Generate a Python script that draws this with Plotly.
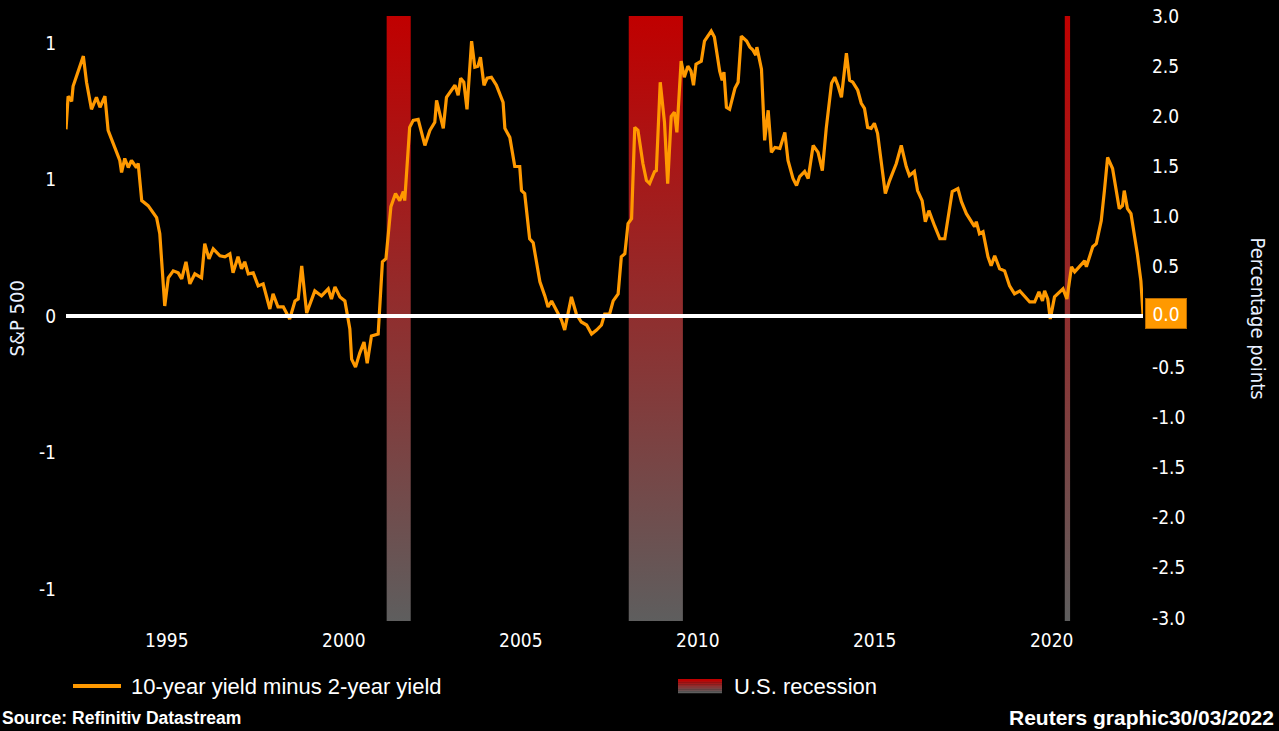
import plotly.graph_objects as go

# 10-year minus 2-year Treasury yield spread (percentage points), by decimal year
years = [
    1992.15, 1992.21, 1992.31, 1992.35, 1992.64, 1992.73, 1992.87, 1993.01, 1993.11, 1993.25,
    1993.34, 1993.53, 1993.67, 1993.72, 1993.81, 1993.91, 1994.00, 1994.14, 1994.19, 1994.29,
    1994.47, 1994.71, 1994.80, 1994.94, 1995.04, 1995.18, 1995.32, 1995.42, 1995.54, 1995.65,
    1995.79, 1995.98, 1996.07, 1996.19, 1996.31, 1996.50, 1996.64, 1996.78, 1996.87, 1997.01,
    1997.11, 1997.20, 1997.30, 1997.44, 1997.58, 1997.72, 1997.91, 1998.00, 1998.14, 1998.29,
    1998.47, 1998.62, 1998.71, 1998.81, 1998.95, 1999.18, 1999.37, 1999.56, 1999.65, 1999.75,
    1999.89, 2000.03, 2000.17, 2000.22, 2000.33, 2000.45, 2000.57, 2000.66, 2000.78, 2000.97,
    2001.09, 2001.19, 2001.33, 2001.46, 2001.58, 2001.68, 2001.72, 2001.86, 2001.96, 2002.10,
    2002.29, 2002.43, 2002.57, 2002.62, 2002.71, 2002.81, 2002.90, 2003.04, 2003.14, 2003.23,
    2003.30, 2003.39, 2003.48, 2003.61, 2003.70, 2003.79, 2003.86, 2003.96, 2004.05, 2004.17,
    2004.31, 2004.50, 2004.55, 2004.69, 2004.83, 2004.97, 2005.02, 2005.11, 2005.25, 2005.35,
    2005.54, 2005.68, 2005.77, 2005.87, 2006.05, 2006.15, 2006.24, 2006.34, 2006.43, 2006.57,
    2006.71, 2006.86, 2007.00, 2007.14, 2007.28, 2007.37, 2007.51, 2007.61, 2007.75, 2007.84,
    2007.94, 2008.03, 2008.13, 2008.22, 2008.31, 2008.45, 2008.55, 2008.64, 2008.78, 2008.83,
    2008.94, 2009.06, 2009.15, 2009.25, 2009.34, 2009.41, 2009.53, 2009.62, 2009.72, 2009.81,
    2009.88, 2009.95, 2010.10, 2010.19, 2010.38, 2010.47, 2010.62, 2010.69, 2010.74, 2010.81,
    2010.90, 2011.05, 2011.14, 2011.23, 2011.38, 2011.47, 2011.56, 2011.64, 2011.67, 2011.80,
    2011.89, 2011.99, 2012.08, 2012.18, 2012.32, 2012.46, 2012.55, 2012.69, 2012.79, 2012.88,
    2013.02, 2013.12, 2013.26, 2013.40, 2013.52, 2013.63, 2013.78, 2013.87, 2013.96, 2014.06,
    2014.20, 2014.29, 2014.38, 2014.52, 2014.62, 2014.71, 2014.80, 2014.90, 2014.99, 2015.08,
    2015.30, 2015.42, 2015.61, 2015.75, 2015.89, 2015.98, 2016.12, 2016.21, 2016.34, 2016.43,
    2016.53, 2016.69, 2016.84, 2016.98, 2017.07, 2017.19, 2017.35, 2017.45, 2017.59, 2017.73,
    2017.82, 2017.87, 2017.96, 2018.06, 2018.20, 2018.29, 2018.39, 2018.53, 2018.67, 2018.81,
    2018.95, 2019.10, 2019.24, 2019.38, 2019.52, 2019.64, 2019.74, 2019.80, 2019.89, 2019.96,
    2020.08, 2020.23, 2020.32, 2020.43, 2020.56, 2020.65, 2020.79, 2020.93, 2020.98, 2021.07,
    2021.16, 2021.26, 2021.40, 2021.49, 2021.58, 2021.72, 2021.82, 2021.91, 2022.00, 2022.05,
    2022.14, 2022.24, 2022.42, 2022.52, 2022.58,
]
spread = [
    1.87, 2.20, 2.15, 2.30, 2.60, 2.34, 2.07, 2.19, 2.09, 2.20,
    1.86, 1.68, 1.56, 1.44, 1.58, 1.49, 1.56, 1.49, 1.53, 1.16,
    1.11, 0.99, 0.83, 0.11, 0.39, 0.46, 0.44, 0.38, 0.55, 0.33,
    0.43, 0.39, 0.73, 0.58, 0.68, 0.61, 0.60, 0.63, 0.44, 0.60,
    0.48, 0.55, 0.43, 0.44, 0.31, 0.33, 0.08, 0.23, 0.10, 0.10,
    -0.02, 0.16, 0.18, 0.51, 0.04, 0.26, 0.21, 0.28, 0.18, 0.30,
    0.20, 0.16, -0.12, -0.42, -0.50, -0.36, -0.25, -0.46, -0.19, -0.17,
    0.55, 0.58, 1.10, 1.23, 1.16, 1.25, 1.16, 1.89, 1.96, 1.97,
    1.71, 1.86, 1.94, 2.16, 2.04, 1.88, 2.19, 2.26, 2.31, 2.21,
    2.38, 2.34, 2.07, 2.75, 2.49, 2.50, 2.59, 2.31, 2.38, 2.39,
    2.31, 2.14, 1.88, 1.79, 1.50, 1.50, 1.26, 1.23, 0.78, 0.74,
    0.35, 0.21, 0.10, 0.16, 0.03, -0.03, -0.13, 0.03, 0.20, 0.03,
    -0.05, -0.08, -0.17, -0.13, -0.08, 0.03, 0.03, 0.16, 0.23, 0.60,
    0.63, 0.93, 0.98, 1.89, 1.86, 1.53, 1.36, 1.33, 1.45, 1.46,
    2.34, 1.94, 1.33, 2.00, 2.04, 1.84, 2.55, 2.39, 2.50, 2.45,
    2.31, 2.52, 2.55, 2.75, 2.85, 2.79, 2.45, 2.36, 2.44, 2.09,
    2.07, 2.28, 2.34, 2.80, 2.75, 2.69, 2.66, 2.61, 2.69, 2.47,
    1.76, 2.06, 1.64, 1.69, 1.68, 1.84, 1.56, 1.38, 1.31, 1.40,
    1.45, 1.38, 1.71, 1.64, 1.46, 1.88, 2.33, 2.39, 2.31, 2.19,
    2.63, 2.36, 2.34, 2.26, 2.13, 2.08, 1.89, 1.88, 1.93, 1.83,
    1.23, 1.36, 1.53, 1.71, 1.50, 1.41, 1.45, 1.26, 1.16, 0.95,
    1.06, 0.91, 0.78, 0.78, 0.97, 1.25, 1.28, 1.15, 1.03, 0.95,
    0.90, 0.95, 0.83, 0.85, 0.60, 0.51, 0.61, 0.48, 0.46, 0.31,
    0.23, 0.26, 0.21, 0.15, 0.15, 0.25, 0.16, 0.26, 0.18, -0.02,
    0.20, 0.25, 0.28, 0.18, 0.50, 0.45, 0.50, 0.56, 0.50, 0.61,
    0.70, 0.73, 0.96, 1.26, 1.59, 1.48, 1.26, 1.08, 1.11, 1.26,
    1.08, 1.03, 0.63, 0.36, 0.03,
]

# U.S. recession periods (start, end) in decimal years
recessions = [(2001.21, 2001.89), (2008.05, 2009.58), (2020.37, 2020.52)]

# Axis ticks
x_ticks = [1995, 2000, 2005, 2010, 2015, 2020]
left_tickvals = [-1.0, -0.5, 0.0, 0.5, 1.0]
left_ticktext = ["-1", "-1", "0", "1", "1"]
right_tickvals = [-3.0, -2.5, -2.0, -1.5, -1.0, -0.5, 0.0, 0.5, 1.0, 1.5, 2.0, 2.5, 3.0]

X_RANGE = [1992.15, 2022.58]
LEFT_RANGE = [-1.117, 1.099]
RIGHT_RANGE = [-3.03, 3.0]

W, H = 1279, 731
M_L, M_R, M_T, M_B = 66, 136, 16, 110
PLOT_W = W - M_L - M_R
PLOT_H = H - M_T - M_B

ARIAL = "Liberation Sans, Arial, sans-serif"
TICKFONT = "DejaVu Sans Condensed, DejaVu Sans, sans-serif"
ORANGE = "#ff9900"
BAND_SCALE = [[0.0, "#5e5e5e"], [1.0, "#c00000"]]


def px(xp):
    """Pixel column -> paper x."""
    return (xp - M_L) / PLOT_W


def py(yp):
    """Pixel row -> paper y."""
    return (M_T + PLOT_H - yp) / PLOT_H


last = spread[-1]
# The latest value is shown in its own tag, so its regular tick label stays blank
right_ticktext = ["" if v == round(last, 1) else f"{v:.1f}" for v in right_tickvals]

fig = go.Figure()

# Recession bands with a red-to-grey vertical gradient
for start, end in recessions:
    fig.add_trace(go.Scatter(
        x=[start, end, end, start, start],
        y=[RIGHT_RANGE[0], RIGHT_RANGE[0], RIGHT_RANGE[1], RIGHT_RANGE[1], RIGHT_RANGE[0]],
        mode="lines", line=dict(width=0), fill="toself",
        fillgradient=dict(type="vertical", colorscale=BAND_SCALE),
        yaxis="y2", hoverinfo="skip", showlegend=False,
    ))

# Yield spread line
fig.add_trace(go.Scatter(
    x=years, y=spread, mode="lines",
    line=dict(color=ORANGE, width=3.2),
    yaxis="y2", showlegend=False,
))

# Zero line
fig.add_shape(type="line", xref="paper", yref="y", x0=0, x1=1, y0=0, y1=0,
              line=dict(color="#ffffff", width=4), layer="above")

annotations = []

# Latest value tag on the right axis
annotations.append(dict(
    x=1, xref="paper", xshift=2, y=last, yref="y2", xanchor="left", yanchor="middle",
    text=f"{last:.1f}", showarrow=False, width=38, height=27,
    bgcolor=ORANGE, bordercolor="#b86a00", borderwidth=1,
    font=dict(family=TICKFONT, size=19, color="#ffffff"),
))

# Axis titles
annotations.append(dict(
    x=px(16), y=0.5, xref="paper", yref="paper", text="S&P 500", textangle=-90,
    showarrow=False, xanchor="center", yanchor="middle",
    font=dict(family=TICKFONT, size=20, color="#e8f0ff"),
))
annotations.append(dict(
    x=px(1258), y=0.5, xref="paper", yref="paper", text="Percentage points", textangle=90,
    showarrow=False, xanchor="center", yanchor="middle",
    font=dict(family=TICKFONT, size=20, color="#e8f0ff"),
))

# Legend
fig.add_shape(type="line", xref="paper", yref="paper", x0=px(73), x1=px(121),
              y0=py(686), y1=py(686), line=dict(color=ORANGE, width=4))
annotations.append(dict(
    x=px(129), y=py(686), xref="paper", yref="paper", text="10-year yield minus 2-year yield",
    showarrow=False, xanchor="left", yanchor="middle",
    font=dict(family=ARIAL, size=22, color="#ffffff"),
))
swatch_rows = 8
for i in range(swatch_rows):
    t = i / (swatch_rows - 1)
    r = round(192 + (94 - 192) * t)
    g = round(0 + (94 - 0) * t)
    col = f"rgb({r},{g},{g})"
    y_top = 679 + i * 14 / swatch_rows
    fig.add_shape(type="rect", xref="paper", yref="paper", x0=px(678), x1=px(722),
                  y0=py(y_top), y1=py(y_top + 14 / swatch_rows + 0.3),
                  line=dict(width=0), fillcolor=col)
annotations.append(dict(
    x=px(732), y=py(686), xref="paper", yref="paper", text="U.S. recession",
    showarrow=False, xanchor="left", yanchor="middle",
    font=dict(family=ARIAL, size=22, color="#ffffff"),
))

# Footer
annotations.append(dict(
    x=px(0), y=py(718), xref="paper", yref="paper", text="<b>Source: Refinitiv Datastream</b>",
    showarrow=False, xanchor="left", yanchor="middle",
    font=dict(family=ARIAL, size=17.5, color="#ffffff"),
))
annotations.append(dict(
    x=px(1276), y=py(717), xref="paper", yref="paper", text="<b>Reuters graphic30/03/2022</b>",
    showarrow=False, xanchor="right", yanchor="middle",
    font=dict(family=ARIAL, size=21, color="#ffffff"),
))

fig.update_layout(
    width=W, height=H,
    margin=dict(l=M_L, r=M_R, t=M_T, b=M_B, pad=0),
    paper_bgcolor="#000000", plot_bgcolor="#000000",
    showlegend=False,
    xaxis=dict(
        range=X_RANGE, tickvals=x_ticks, ticktext=[str(v) for v in x_ticks],
        showgrid=False, zeroline=False, showline=False, ticks="", automargin=False,
        tickfont=dict(family=TICKFONT, size=19, color="#ffffff"),
        ticklabelstandoff=6,
    ),
    yaxis=dict(
        range=LEFT_RANGE, tickvals=left_tickvals, ticktext=left_ticktext,
        showgrid=False, zeroline=False, showline=False, ticks="", automargin=False,
        tickfont=dict(family=TICKFONT, size=19, color="#ffffff"),
        ticklabelstandoff=9,
    ),
    yaxis2=dict(
        range=RIGHT_RANGE, overlaying="y", side="right",
        tickvals=right_tickvals, ticktext=right_ticktext,
        showgrid=False, zeroline=False, showline=False, ticks="", automargin=False,
        tickfont=dict(family=TICKFONT, size=19, color="#ffffff"),
        ticklabelstandoff=8,
    ),
    annotations=annotations,
)

fig.write_html("out.html")
